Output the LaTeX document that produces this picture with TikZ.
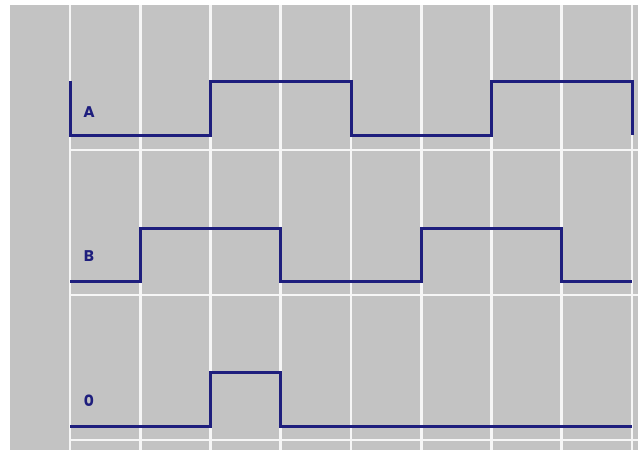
\documentclass[tikz,border=0pt]{standalone}
\usepackage{fontspec}
\setmainfont{Poppins}
\definecolor{bggray}{RGB}{195,195,195}
\definecolor{sig}{RGB}{30,30,125}
\definecolor{gridw}{RGB}{246,246,246}
\begin{document}
\begin{tikzpicture}[x=1pt,y=-1pt,
  gridline/.style={draw=gridw,line width=2.6pt},
  signal/.style={draw=sig,line width=3pt,line join=miter},
  siglabel/.style={text=sig,font=\fontsize{15.5}{15.5}\selectfont\bfseries,inner sep=0pt}]
\useasboundingbox (0,0) rectangle (638,450);
\fill[white] (0,0) rectangle (638,450);
\fill[bggray] (10,5) rectangle (638,450);
% vertical grid lines
\foreach \k in {0,...,8}
  \draw[gridline] ({70+70.25*\k},5) -- ({70+70.25*\k},450);
% horizontal grid lines
\foreach \yy in {150,295,440}
  \draw[gridline] (70,\yy) -- (638,\yy);
% signal A
\draw[signal] (70,81) -- (70,135) -- (210.5,135) -- (210.5,81) -- (351,81) -- (351,135)
  -- (491.5,135) -- (491.5,81) -- (632,81) -- (632,135);
% signal B
\draw[signal] (70,281) -- (140.25,281) -- (140.25,228) -- (280.75,228) -- (280.75,281)
  -- (421.25,281) -- (421.25,228) -- (561.75,228) -- (561.75,281) -- (632,281);
% signal 0
\draw[signal] (70,426) -- (210.5,426) -- (210.5,372) -- (280.75,372) -- (280.75,426) -- (632,426);
% labels
\node[siglabel] (la) at (89,112) {A};
\node[siglabel] (lb) at (89,256) {B};
\node[siglabel] (lo) at (89,401) {0};
\end{tikzpicture}
\end{document}
